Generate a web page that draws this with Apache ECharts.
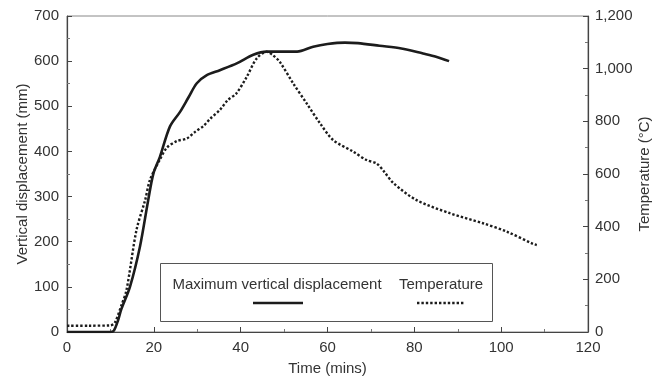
<!DOCTYPE html>
<html>
<head>
<meta charset="utf-8">
<script src="https://cdn.jsdelivr.net/npm/echarts@6/dist/echarts.min.js"></script>
<style>html,body{margin:0;padding:0;background:#fff}#c{width:654px;height:378px}</style>
</head>
<body>
<div id="c"></div>
<script>
// Time (mins) for the displacement series
var dispTime = [0, 5, 10, 10.8, 11.8, 12.5, 14.5, 16.8, 18.7, 19.9, 21.4, 23.7, 26, 28, 29.9, 32.2, 35.2, 39.1, 42.9, 46, 53, 56.7, 60, 64, 67, 72, 77, 82, 85, 88];
// Maximum vertical displacement (mm)
var dispValue = [0, 0, 0, 3, 27, 50, 100, 189, 292, 351, 388, 455, 487, 520, 551, 569, 580, 595, 614, 621, 621, 632, 638, 641, 640, 634, 628, 617, 610, 600];
// Time (mins) for the temperature series
var tempTime = [0, 5, 10, 11, 12.5, 13.7, 16, 18, 19.1, 21.4, 23, 25.3, 27.6, 29.5, 31.4, 33, 35.2, 37, 39, 41.4, 43.7, 46, 47.5, 49, 52.1, 55.2, 58.3, 61.3, 65.9, 69, 71.3, 73, 75.2, 80.5, 88.2, 95.8, 101.3, 107.3, 108.2];
// Temperature (°C)
var tempValue = [24, 24, 25, 35, 100, 159, 387, 501, 577, 655, 700, 725, 735, 760, 782, 810, 843, 880, 906, 969, 1039, 1064, 1050, 1026, 944, 868, 792, 729, 685, 653, 640, 610, 565, 501, 451, 413, 381, 335, 330];
var xTicks = [0, 20, 40, 60, 80, 100, 120];
var seriesNames = ['Maximum vertical displacement', 'Temperature'];

function pairs(xs, ys) { return xs.map(function (x, i) { return [x, ys[i]]; }); }

var font = 'Liberation Sans, Arial, Helvetica, sans-serif';
var ink = '#1c1c1c';
var axisCol = '#444';
var txtCol = '#333';
var fs = 15;

var chart = echarts.init(document.getElementById('c'), null, { renderer: 'canvas' });
chart.setOption({
  animation: false,
  backgroundColor: '#fff',
  grid: { left: 67, right: 66, top: 16, bottom: 46, show: true, borderColor: '#888', borderWidth: 1, containLabel: false, outerBoundsMode: 'none' },
  xAxis: {
    type: 'value', min: xTicks[0], max: xTicks[xTicks.length - 1], interval: 20,
    name: 'Time (mins)', nameLocation: 'middle', nameGap: 29, nameMoveOverlap: false,
    nameTextStyle: { fontFamily: font, fontSize: fs, color: txtCol },
    axisLine: { lineStyle: { color: axisCol, width: 1.2 } },
    axisTick: { inside: true, length: 5, lineStyle: { color: axisCol } },
    minorTick: { show: true, splitNumber: 2, length: 3, lineStyle: { color: '#777' } },
    axisLabel: { fontFamily: font, fontSize: fs, color: txtCol, margin: 8 },
    splitLine: { show: false }
  },
  yAxis: [{
    type: 'value', min: 0, max: 700, interval: 100,
    name: 'Vertical displacement (mm)', nameLocation: 'middle', nameGap: 37, nameMoveOverlap: false,
    nameTextStyle: { fontFamily: font, fontSize: fs, color: txtCol },
    axisLine: { show: true, lineStyle: { color: axisCol, width: 1.2 } },
    axisTick: { show: true, inside: true, length: 5, lineStyle: { color: axisCol } },
    minorTick: { show: true, splitNumber: 2, length: 3, lineStyle: { color: '#777' } },
    axisLabel: { fontFamily: font, fontSize: fs, color: txtCol, margin: 8 },
    splitLine: { show: false }
  }, {
    type: 'value', min: 0, max: 1200, interval: 200, position: 'right',
    name: 'Temperature (°C)', nameLocation: 'middle', nameGap: 49, nameMoveOverlap: false,
    nameTextStyle: { fontFamily: font, fontSize: fs, color: txtCol },
    axisLine: { show: true, lineStyle: { color: axisCol, width: 1.2 } },
    axisTick: { show: true, inside: true, length: 5, lineStyle: { color: axisCol } },
    minorTick: { show: true, splitNumber: 2, length: 3, lineStyle: { color: '#777' } },
    axisLabel: {
      fontFamily: font, fontSize: fs, color: txtCol, margin: 7,
      formatter: function (v) { return v.toLocaleString('en-US'); }
    },
    splitLine: { show: false }
  }],
  series: [{
    name: seriesNames[0], type: 'line', yAxisIndex: 0, showSymbol: false, smooth: 0.3,
    data: pairs(dispTime, dispValue),
    lineStyle: { color: ink, width: 2.6 }
  }, {
    name: seriesNames[1], type: 'line', yAxisIndex: 1, showSymbol: false, smooth: 0.3,
    data: pairs(tempTime, tempValue),
    lineStyle: { color: ink, width: 2.4, type: [2.4, 2] }
  }],
  graphic: [{
    type: 'group', z: 100,
    children: [
      { type: 'rect', shape: { x: 160.5, y: 263.5, width: 332, height: 58 }, style: { fill: '#fff', stroke: '#555', lineWidth: 1 } },
      { type: 'text', x: 277, y: 285, style: { text: seriesNames[0], font: fs + 'px ' + font, fill: txtCol, align: 'center', verticalAlign: 'middle' } },
      { type: 'text', x: 441, y: 285, style: { text: seriesNames[1], font: fs + 'px ' + font, fill: txtCol, align: 'center', verticalAlign: 'middle' } },
      { type: 'line', shape: { x1: 253, y1: 303, x2: 303, y2: 303 }, style: { stroke: ink, lineWidth: 2.6 } },
      { type: 'line', shape: { x1: 417, y1: 303, x2: 465, y2: 303 }, style: { stroke: ink, lineWidth: 2.4, lineDash: [2.4, 2] } }
    ]
  }]
});
</script>
</body>
</html>
